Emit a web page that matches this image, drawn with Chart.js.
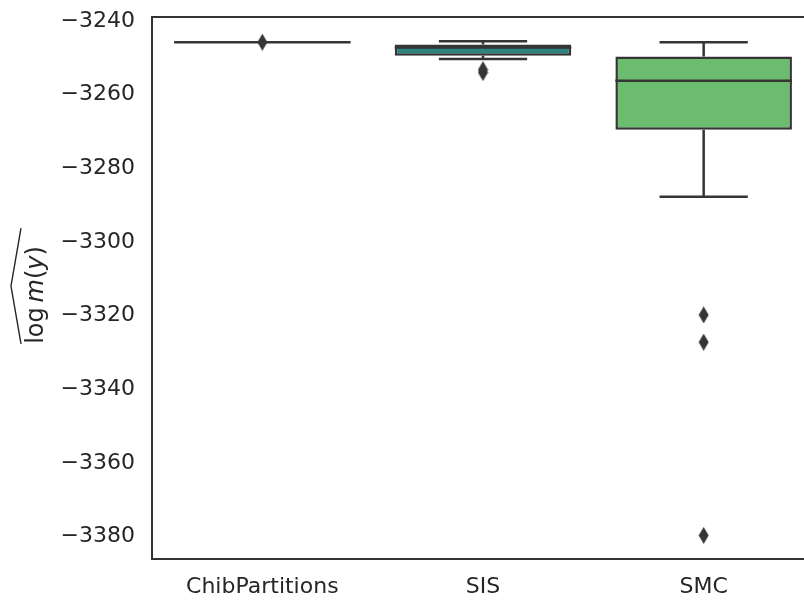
<!DOCTYPE html>
<html>
<head>
<meta charset="utf-8">
<script src="https://cdn.jsdelivr.net/npm/chart.js@4"></script>
<style>
  html, body { margin: 0; padding: 0; background: #fff; overflow: hidden; }
  #wrap { width: 804px; height: 605px; overflow: hidden; }
</style>
</head>
<body>
<div id="wrap"><canvas id="myChart" width="820" height="605"></canvas></div>
<script>
// Datos (boxplot)
var categories = ['ChibPartitions', 'SIS', 'SMC'];
var q1 = [-3245.75, -3249.4, -3269.5];
var q3 = [-3245.75, -3246.4, -3249.6];
var medians = [-3245.75, -3247.2, -3256.2];
var whiskerLow = [-3245.75, -3250.3, -3287.7];
var whiskerHigh = [-3245.75, -3245.5, -3245.75];
var outliers = [[-3245.75], [-3253.2, -3254.0], [-3319.8, -3327.2, -3379.7]];
var yTicks = [-3240, -3260, -3280, -3300, -3320, -3340, -3360, -3380];

var boxColors = ['#42558a', '#2f837f', '#6cbc6f'];
var lineColor = '#353535';
var textColor = '#262626';
var fontFamily = '"DejaVu Sans", sans-serif';

// segmentos de bigotes, topes y medianas
var segs = [];
for (var i = 0; i < categories.length; i++) {
    segs.push({x: i, y: whiskerLow[i]}, {x: i, y: q1[i]}, {x: i, y: null});
    segs.push({x: i, y: q3[i]}, {x: i, y: whiskerHigh[i]}, {x: i, y: null});
    segs.push({x: i - 0.2, y: whiskerLow[i]}, {x: i + 0.2, y: whiskerLow[i]}, {x: i, y: null});
    segs.push({x: i - 0.2, y: whiskerHigh[i]}, {x: i + 0.2, y: whiskerHigh[i]}, {x: i, y: null});
    segs.push({x: i - 0.4, y: medians[i]}, {x: i + 0.4, y: medians[i]}, {x: i, y: null});
}

var fliers = [];
for (var i = 0; i < outliers.length; i++) {
    for (var j = 0; j < outliers[i].length; j++) {
        fliers.push({x: i, y: outliers[i][j]});
    }
}

// marcador de diamante delgado
var diamond = document.createElement('canvas');
diamond.width = 11;
diamond.height = 17;
var dctx = diamond.getContext('2d');
dctx.fillStyle = lineColor;
dctx.beginPath();
dctx.moveTo(5.5, 0);
dctx.lineTo(10.5, 8.5);
dctx.lineTo(5.5, 17);
dctx.lineTo(0.5, 8.5);
dctx.closePath();
dctx.fill();

var framePlugin = {
    id: 'frame',
    afterDatasetsDraw: function(chart) {
        var a = chart.chartArea, ctx = chart.ctx;
        ctx.save();
        ctx.strokeStyle = '#333333';
        ctx.lineWidth = 2;
        ctx.strokeRect(a.left, a.top, a.right - a.left, a.bottom - a.top);
        ctx.restore();
    }
};

var yTitlePlugin = {
    id: 'yTitle',
    afterDraw: function(chart) {
        var a = chart.chartArea, ctx = chart.ctx;
        var parts = [['log', ''], ['\u2009', ''], ['m', 'italic '], ['(', ''], ['y', 'italic '], [')', '']];
        var size = 24;
        ctx.save();
        ctx.translate(43, (a.top + a.bottom) / 2 + 7);
        ctx.rotate(-Math.PI / 2);
        ctx.fillStyle = textColor;
        ctx.textBaseline = 'alphabetic';
        var w = 0;
        parts.forEach(function(p) {
            ctx.font = p[1] + size + 'px ' + fontFamily;
            w += ctx.measureText(p[0]).width;
        });
        var x = -w / 2;
        parts.forEach(function(p) {
            ctx.font = p[1] + size + 'px ' + fontFamily;
            ctx.fillText(p[0], x, 0);
            x += ctx.measureText(p[0]).width;
        });
        ctx.strokeStyle = textColor;
        ctx.lineWidth = 1.4;
        ctx.beginPath();
        ctx.moveTo(-w / 2, -22);
        ctx.lineTo(-w / 2 + (w + 18) / 2, -32);
        ctx.lineTo(w / 2 + 18, -22);
        ctx.stroke();
        ctx.restore();
    }
};

var ctx = document.getElementById('myChart').getContext('2d');
var myChart = new Chart(ctx, {
    type: 'bar',
    data: {
        labels: categories,
        datasets: [
            {
                type: 'scatter',
                data: fliers,
                xAxisID: 'xl',
                pointStyle: diamond,
                pointRadius: 5,
                order: 0
            },
            {
                type: 'line',
                data: segs,
                xAxisID: 'xl',
                borderColor: lineColor,
                borderWidth: 2.5,
                borderCapStyle: 'butt',
                pointRadius: 0,
                spanGaps: false,
                tension: 0,
                order: 1
            },
            {
                type: 'bar',
                data: categories.map(function(c, i) { return [q1[i], q3[i]]; }),
                xAxisID: 'x',
                backgroundColor: boxColors,
                borderColor: lineColor,
                borderWidth: 2.5,
                borderSkipped: false,
                grouped: false,
                barPercentage: 0.8,
                categoryPercentage: 1,
                order: 2
            }
        ]
    },
    options: {
        responsive: false,
        animation: false,
        devicePixelRatio: 1,
        layout: { padding: { top: 17, right: 4, left: 0, bottom: 0 } },
        plugins: {
            legend: { display: false },
            tooltip: { enabled: false }
        },
        scales: {
            x: {
                type: 'category',
                offset: true,
                grid: { display: false, drawTicks: false },
                border: { display: false },
                ticks: {
                    color: textColor,
                    font: { family: fontFamily, size: 22 },
                    padding: 15
                },
                afterFit: function(scale) {
                    scale.height = 46;
                    scale.paddingLeft = 0;
                    scale.paddingRight = 0;
                }
            },
            xl: {
                type: 'linear',
                display: false,
                offset: false,
                min: -0.5,
                max: 2.5
            },
            y: {
                type: 'linear',
                min: -3386.1,
                max: -3238.9,
                grid: { display: false, drawTicks: false },
                border: { display: false },
                afterBuildTicks: function(scale) {
                    scale.ticks = yTicks.map(function(v) { return {value: v}; });
                },
                ticks: {
                    color: textColor,
                    font: { family: fontFamily, size: 22 },
                    padding: 17,
                    callback: function(v) { return (v < 0 ? '\u2212' : '') + Math.abs(v); }
                },
                afterFit: function(scale) {
                    scale.width = 152;
                    scale.paddingTop = 0;
                    scale.paddingBottom = 0;
                }
            }
        }
    },
    plugins: [framePlugin, yTitlePlugin]
});
</script>
</body>
</html>
